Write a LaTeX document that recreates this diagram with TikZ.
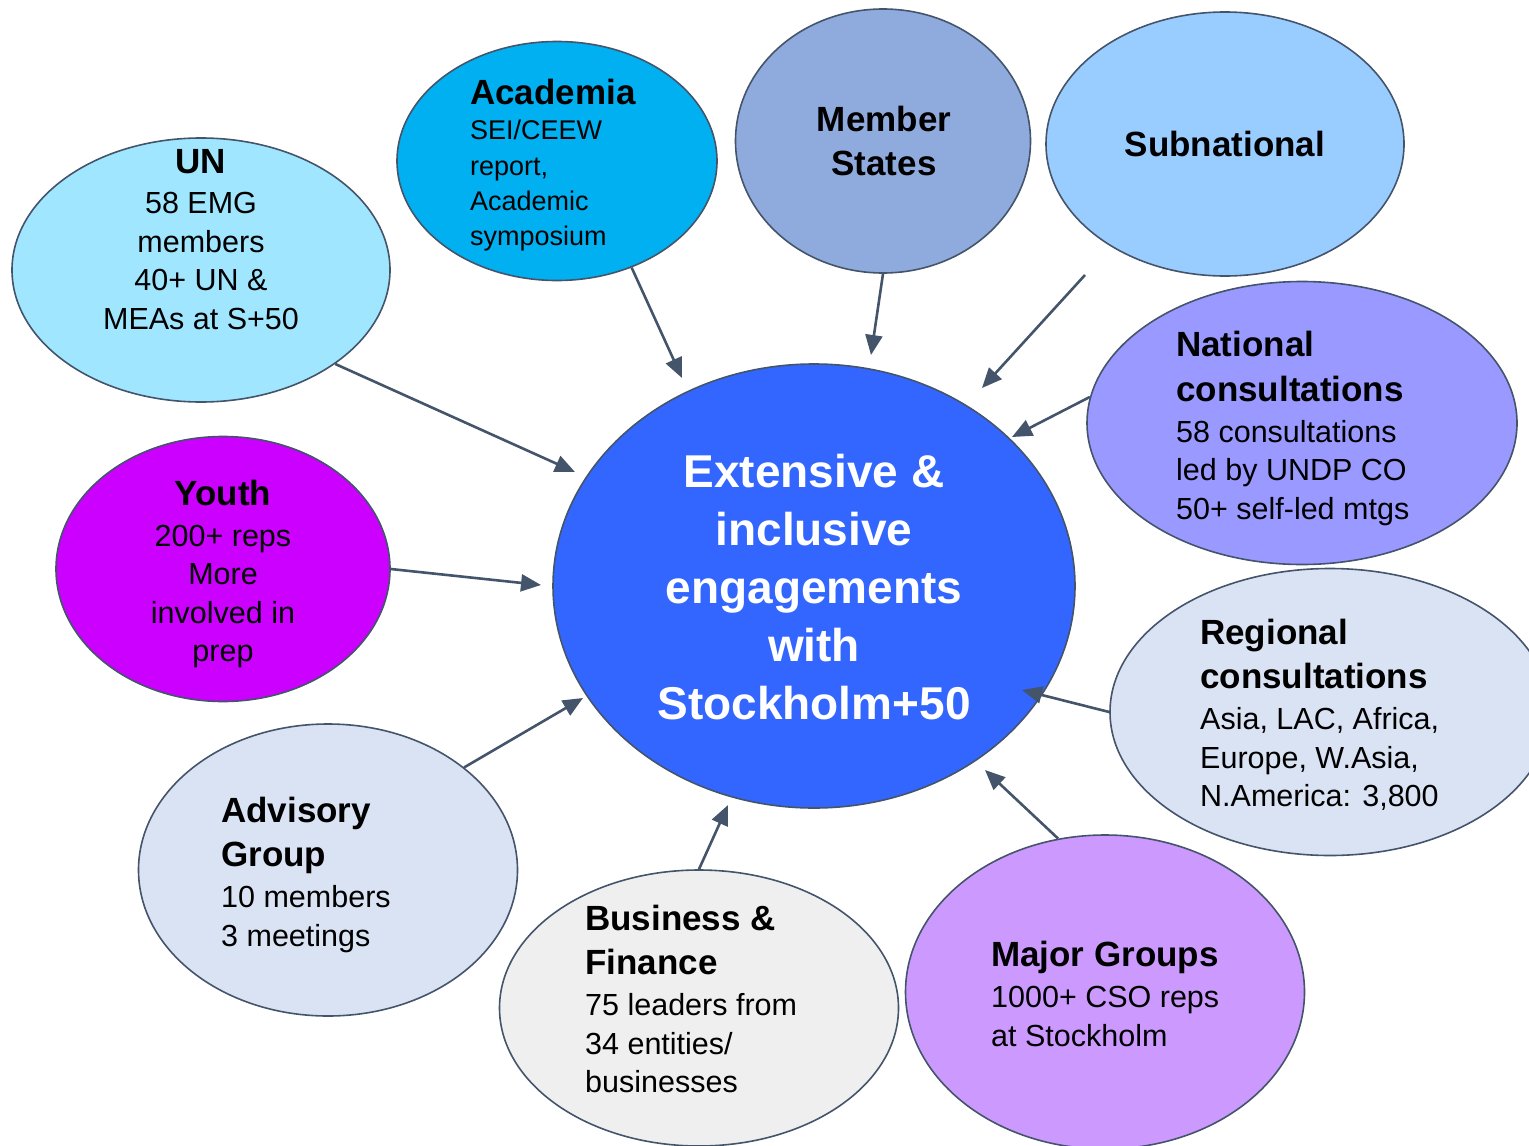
\documentclass[tikz,border=0pt]{standalone}
\usepackage{fontspec}
\setmainfont{Liberation Sans}
\usetikzlibrary{shapes.geometric,arrows.meta}
\definecolor{edge}{HTML}{44546A}
\definecolor{cUN}{HTML}{A0E6FF}
\definecolor{cAca}{HTML}{00B0F0}
\definecolor{cMS}{HTML}{8FAADC}
\definecolor{cSub}{HTML}{99CCFF}
\definecolor{cNat}{HTML}{9999FF}
\definecolor{cReg}{HTML}{DAE3F3}
\definecolor{cYou}{HTML}{CC00FF}
\definecolor{cAdv}{HTML}{DAE3F3}
\definecolor{cBus}{HTML}{EFEFEF}
\definecolor{cMG}{HTML}{CC99FF}
\definecolor{cCen}{HTML}{3366FF}
\newcommand{\tb}[1]{{\fontsize{35}{44}\selectfont\bfseries #1}}
\tikzset{
  bubble/.style={ellipse, draw=edge, line width=1.6pt, inner sep=0pt},
  txt/.style={inner sep=0pt, font=\fontsize{30.5}{38.5}\selectfont, text=black},
  conn/.style={draw=edge, line width=2.6pt, -{Triangle[length=20pt,width=17pt]}},
}
\begin{document}
\begin{tikzpicture}[x=1pt,y=-1pt]
\useasboundingbox (0,0) rectangle (1529,1146);
% ellipses
\node[bubble, fill=cUN,  minimum width=378pt, minimum height=264pt] (un)  at (201,270) {};
\node[bubble, fill=cAca, minimum width=320pt, minimum height=239pt] (aca) at (557,161) {};
\node[bubble, fill=cMS,  minimum width=295pt, minimum height=264pt] (ms)  at (883,141) {};
\node[bubble, fill=cSub, minimum width=358pt, minimum height=264pt] (sub) at (1225,144) {};
\node[bubble, fill=cNat, minimum width=430pt, minimum height=283pt] (nat) at (1302,423) {};
\node[bubble, fill=cReg, minimum width=440pt, minimum height=287pt] (reg) at (1330,712) {};
\node[bubble, fill=cYou, minimum width=334pt, minimum height=265pt] (you) at (223,569) {};
\node[bubble, fill=cAdv, minimum width=379pt, minimum height=292pt] (adv) at (328,870) {};
\node[bubble, fill=cBus, minimum width=399pt, minimum height=276pt] (bus) at (699,1008) {};
\node[bubble, fill=cMG,  minimum width=399pt, minimum height=314pt] (mg)  at (1105,992) {};
\node[bubble, fill=cCen, minimum width=522pt, minimum height=444pt] (cen) at (814,586) {};
% texts
\node[txt, align=center, anchor=north] (tun) at (201,149)
  {\tb{UN}\\[2pt]58 EMG\\members\\40+ UN \&\\MEAs at S+50};
\node[txt, align=left, anchor=north west, font=\fontsize{27}{35.3}\selectfont] (taca) at (470,79)
  {\tb{Academia}\\[0pt]SEI/CEEW\\report,\\Academic\\symposium};
\node[txt, align=center, anchor=north] (tms) at (884,106)
  {\tb{Member}\\[5.5pt]\tb{States}};
\node[txt, align=center, anchor=north] (tsub) at (1225,131)
  {\tb{Subnational}};
\node[txt, align=left, anchor=north west] (tnat) at (1176,331)
  {\tb{National}\\[6pt]\tb{consultations}\\[2.5pt]58 consultations\\led by UNDP CO\\50+ self-led mtgs};
\node[txt, align=left, anchor=north west] (treg) at (1200,619)
  {\tb{Regional}\\[5.5pt]\tb{consultations}\\[2.5pt]Asia, LAC, Africa,\\Europe, W.Asia,\\N.America: 3,800};
\node[txt, align=center, anchor=north] (tyou) at (223,480)
  {\tb{Youth}\\[2pt]200+ reps\\More\\involved in\\prep};
\node[txt, align=left, anchor=north west] (tadv) at (221,797)
  {\tb{Advisory}\\[5.5pt]\tb{Group}\\[2.5pt]10 members\\3 meetings};
\node[txt, align=left, anchor=north west] (tbus) at (585,905)
  {\tb{Business \&}\\[5.5pt]\tb{Finance}\\[2.5pt]75 leaders from\\34 entities/\\businesses};
\node[txt, align=left, anchor=north west] (tmg) at (991,941)
  {\tb{Major Groups}\\[2.5pt]1000+ CSO reps\\at Stockholm};
\node[inner sep=0pt, align=center, anchor=north, text=white,
      font=\fontsize{46}{58}\selectfont\bfseries] (tcen) at (814,454)
  {Extensive \&\\inclusive\\engagements\\with\\Stockholm+50};
% arrow ends
\coordinate (hun)  at (575,472);
\coordinate (haca) at (682,378);
\coordinate (hms)  at (871,355);
\coordinate (tsubA) at (1085,275);
\coordinate (hsub) at (982,388);
\coordinate (hnat) at (1012,437);
\coordinate (hyou) at (541,585);
\coordinate (hadv) at (583,698);
\coordinate (hbus) at (728,805);
\coordinate (hmg)  at (985,770);
\coordinate (hreg) at (1022,690);
% connectors
\draw[conn] (un.-35)   -- (hun);
\draw[conn] (aca.-55)  -- (haca);
\draw[conn] (ms.-90)   -- (hms);
\draw[conn] (tsubA)    -- (hsub);
\draw[conn] (nat.173)  -- (hnat);
\draw[conn] (you.0)    -- (hyou);
\draw[conn] (adv.37.6) -- (hadv);
\draw[conn] (bus.90)   -- (hbus);
\draw[conn] (mg.107)   -- (hmg);
\draw[conn] (reg.180)  -- (hreg);
\end{tikzpicture}
\end{document}
